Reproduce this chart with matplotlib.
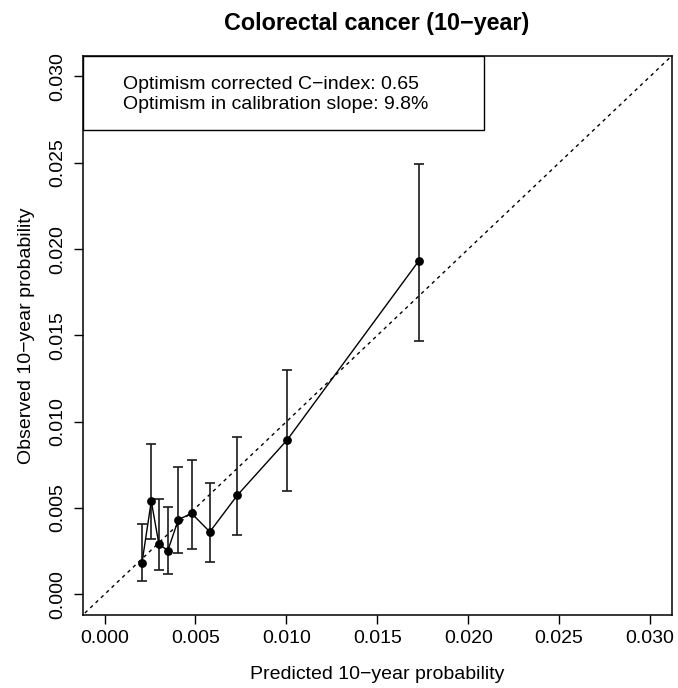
import numpy as np
import matplotlib
matplotlib.use("Agg")
import matplotlib.pyplot as plt
from matplotlib.patches import Rectangle

plt.rcParams['font.family'] = ['Liberation Sans', 'DejaVu Sans']

# calibration groups
pred = [0.00206, 0.00257, 0.00299, 0.00348, 0.00406, 0.00479, 0.00579, 0.00731, 0.01004, 0.01727]
obs = [0.00183, 0.00540, 0.00291, 0.00254, 0.00433, 0.00469, 0.00362, 0.00575, 0.00894, 0.01930]
lower = [0.00075, 0.00320, 0.00142, 0.00119, 0.00240, 0.00265, 0.00190, 0.00346, 0.00600, 0.01469]
upper = [0.00407, 0.00871, 0.00554, 0.00504, 0.00736, 0.00779, 0.00644, 0.00914, 0.01300, 0.02490]

ticks = [0.000, 0.005, 0.010, 0.015, 0.020, 0.025, 0.030]
title = "Colorectal cancer (10\u2212year)"
xlab = "Predicted 10\u2212year probability"
ylab = "Observed 10\u2212year probability"
info = ["Optimism corrected C\u2212index: 0.65",
        "Optimism in calibration slope: 9.8%"]

pred = np.array(pred)
obs = np.array(obs)
err = np.vstack([obs - np.array(lower), np.array(upper) - obs])

fig = plt.figure(figsize=(6.78, 6.88), dpi=100)
ax = fig.add_axes([0.122, 0.106, 0.869, 0.813])

ax.plot([-1, 1], [-1, 1], color='black', lw=1.0, ls=(0, (2.5, 2.8)))
ax.errorbar(pred, obs, yerr=err, fmt='none', ecolor='#1a1a1a', elinewidth=1.2,
            capsize=3.4, capthick=1.2)
ax.plot(pred, obs, color='black', lw=1.0, marker='o', ms=5.3, mfc='black', mec='black')

ax.set_xlim(-0.0012, 0.0312)
ax.set_ylim(-0.0012, 0.0312)
ax.set_xticks(ticks)
ax.set_yticks(ticks)
ax.set_xticklabels(["%.3f" % t for t in ticks])
ax.set_yticklabels(["%.3f" % t for t in ticks], rotation=90, va='center')
ax.tick_params(direction='out', length=6.7, width=1, labelsize=14)
ax.tick_params(axis='x', pad=3.8)
ax.tick_params(axis='y', pad=5.3)
for s in ax.spines.values():
    s.set_linewidth(1.1)

ax.set_xlabel(xlab, fontsize=14, va='center')
ax.xaxis.set_label_coords(0.5, -0.107)
ax.set_ylabel(ylab, fontsize=14, va='center')
ax.yaxis.set_label_coords(-0.095, 0.5)

fig.text(0.556, 0.957, title, ha='center', va='baseline', fontsize=16.8, fontweight='bold')

ax.add_patch(Rectangle((0, 0.868), 0.681, 0.132, transform=ax.transAxes,
                       fill=False, ec='black', lw=1.0, clip_on=False))
ax.text(0.069, 0.948, info[0], transform=ax.transAxes, fontsize=14, va='center')
ax.text(0.069, 0.912, info[1], transform=ax.transAxes, fontsize=14, va='center')

fig.savefig("out.png", dpi=100)
